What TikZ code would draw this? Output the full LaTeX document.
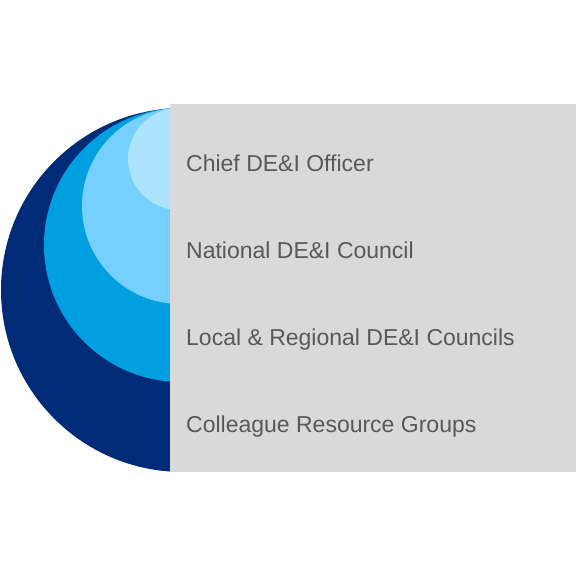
\documentclass[tikz,border=0pt]{standalone}
\usepackage{fontspec}
\setmainfont{Liberation Sans}
\usepackage{tikz}
\usetikzlibrary{positioning}
\definecolor{navy}{HTML}{002C77}
\definecolor{mittelblau}{HTML}{009FDF}
\definecolor{hellblau}{HTML}{75D0FF}
\definecolor{eisblau}{HTML}{ADE3FF}
\definecolor{feldgrau}{HTML}{D9D9D9}
\definecolor{schrift}{HTML}{595959}
\tikzset{
  Ebene/.style={circle, draw=none, inner sep=0pt, fill=#1}, % für Kreise
  Stufe/.style={anchor=base west, text=schrift, font=\fontsize{23}{27}\selectfont, inner sep=0pt} % für Beschriftung
}

\begin{document}
\begin{tikzpicture}[x=1pt, y=1pt]
\useasboundingbox (0,0) rectangle (576,576);

%Kreise
\node[Ebene=navy, minimum size=364pt] (E4) at (183,286) {};
\node[Ebene=mittelblau, minimum size=274pt] (E3) at (181,331) {};
\node[Ebene=hellblau, minimum size=196pt] (E2) at (180,370) {};
\node[Ebene=eisblau, minimum size=102pt] (E1) at (179,417) {};

%Textfeld
\fill[feldgrau] (169.5,104) rectangle (576,472);
\coordinate (Feld) at (186,404.5);

%Beschriftung
\node[Stufe] (chief) at (Feld) {Chief DE\&I Officer};
\node[Stufe, below=87pt of chief.base west, anchor=base west] (national) {National DE\&I Council};
\node[Stufe, below=87pt of national.base west, anchor=base west] (local) {Local \& Regional DE\&I Councils};
\node[Stufe, below=87pt of local.base west, anchor=base west] (crg) {Colleague Resource Groups};

\end{tikzpicture}
\end{document}
